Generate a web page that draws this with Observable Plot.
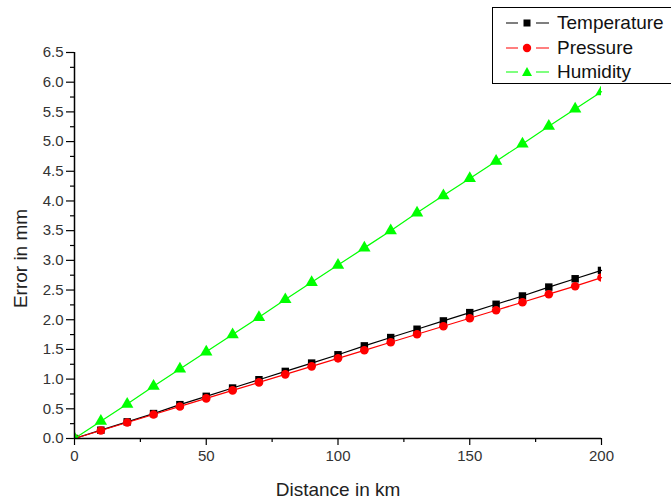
<!DOCTYPE html>
<html>
<head>
<meta charset="utf-8">
<script src="https://cdn.jsdelivr.net/npm/d3@7"></script>
<script src="https://cdn.jsdelivr.net/npm/@observablehq/plot@0.6"></script>
<style>
  html, body { margin: 0; padding: 0; background: #fff; }
  #wrap { position: relative; width: 671px; height: 499px; overflow: hidden; font-family: "Liberation Sans", Arial, sans-serif; }
  #legend { position: absolute; left: 492px; top: 7px; width: 190px; height: 77px; border: 1px solid #000; background: #fff; box-sizing: border-box; }
  .row { position: absolute; left: 0; height: 24px; display: flex; align-items: center; font-size: 19px; color: #111; white-space: nowrap; }
  .row svg { margin-left: 12px; margin-right: 7px; }
</style>
</head>
<body>
<div id="wrap"></div>
<script>
const distance = [0,10,20,30,40,50,60,70,80,90,100,110,120,130,140,150,160,170,180,190,200];
const temperature = [0,0.14,0.28,0.42,0.57,0.71,0.85,0.99,1.13,1.27,1.41,1.56,1.70,1.84,1.98,2.12,2.26,2.40,2.55,2.69,2.83];
const pressure = [0,0.135,0.27,0.405,0.54,0.675,0.81,0.945,1.08,1.215,1.35,1.485,1.62,1.755,1.89,2.025,2.16,2.295,2.43,2.565,2.71];
const humidity = [0,0.29,0.58,0.88,1.17,1.46,1.75,2.04,2.34,2.63,2.92,3.21,3.50,3.80,4.09,4.38,4.67,4.96,5.26,5.55,5.84];
const seriesNames = ["Temperature", "Pressure", "Humidity"];
const seriesColors = ["#000000", "#ff0000", "#00ff00"];
const seriesSymbols = ["square", "circle", "triangle"];
const xTicks = [0, 50, 100, 150, 200];
const xMinor = [25, 75, 125, 175];
const yTicks = [0,0.5,1,1.5,2,2.5,3,3.5,4,4.5,5,5.5,6,6.5];
const yMinor = [0.25,0.75,1.25,1.75,2.25,2.75,3.25,3.75,4.25,4.75,5.25,5.75,6.25];
const xTitle = "Distance in km";
const yTitle = "Error in mm";

const seriesValues = [temperature, pressure, humidity];
const rows = [];
seriesValues.forEach((vals, i) => vals.forEach((v, j) => rows.push({series: seriesNames[i], x: distance[j], y: v})));

const sizes = {Temperature: 4.2, Pressure: 4.3, Humidity: 4.6};
const marks = [];
seriesNames.forEach((name, i) => {
  const d = rows.filter(r => r.series === name);
  marks.push(Plot.line(d, {x: "x", y: "y", stroke: seriesColors[i], strokeWidth: 1.2}));
  marks.push(Plot.dot(d, {x: "x", y: "y", symbol: () => seriesSymbols[i], fill: seriesColors[i], stroke: "none", r: sizes[name], clip: "frame"}));
});

const chart = Plot.plot({
  width: 671,
  height: 499,
  marginLeft: 74,
  marginRight: 70,
  marginTop: 52,
  marginBottom: 61,
  style: {fontFamily: "'Liberation Sans', Arial, sans-serif", background: "white", color: "#222"},
  x: {domain: [0, 200]},
  y: {domain: [0, 6.5]},
  symbol: {domain: seriesSymbols, range: seriesSymbols},
  marks: [
    Plot.axisX({ticks: xMinor, tickSize: 4, text: null, label: null, stroke: "#000", strokeWidth: 1.2}),
    Plot.axisX({ticks: xTicks, tickSize: 7, tickPadding: 5, fontSize: 15, fill: "#333", stroke: "#000", strokeWidth: 1.2, label: null, tickFormat: d => String(d)}),
    Plot.axisY({ticks: yMinor, tickSize: 4, text: null, label: null, stroke: "#000", strokeWidth: 1.2}),
    Plot.axisY({ticks: yTicks, tickSize: 8, tickPadding: 3, fontSize: 15, fill: "#333", stroke: "#000", strokeWidth: 1.2, label: null, tickFormat: d => d.toFixed(1)}),
    Plot.text([xTitle], {frameAnchor: "bottom", textAnchor: "middle", dy: 57, fontSize: 19, fill: "#222"}),
    Plot.text([yTitle], {frameAnchor: "left", textAnchor: "middle", lineAnchor: "middle", dx: -54, dy: 13, rotate: -90, fontSize: 19, fill: "#222"}),
    ...marks,
    Plot.ruleX([0], {stroke: "#000", strokeWidth: 1.5}),
    Plot.ruleY([0], {stroke: "#000", strokeWidth: 1.5})
  ]
});

const wrap = document.getElementById("wrap");
wrap.appendChild(chart);

const legend = document.createElement("div");
legend.id = "legend";
const icon = {
  square: '<rect x="18.5" y="4.5" width="7" height="7" fill="COL"/>',
  circle: '<circle cx="22" cy="8" r="4.2" fill="COL"/>',
  triangle: '<polygon points="22,3 27,12 17,12" fill="COL"/>'
};
seriesNames.forEach((name, i) => {
  const row = document.createElement("div");
  row.className = "row";
  row.style.top = (3 + i * 24.5) + "px";
  const col = seriesColors[i];
  row.innerHTML = `<svg width="45" height="16"><line x1="1" y1="8" x2="44" y2="8" stroke="${col}" stroke-width="1.2"/><line x1="13" y1="8" x2="31" y2="8" stroke="#fff" stroke-width="3"/>${icon[seriesSymbols[i]].replace("COL", col)}</svg><span>${name}</span>`;
  legend.appendChild(row);
});
wrap.appendChild(legend);
</script>
</body>
</html>
